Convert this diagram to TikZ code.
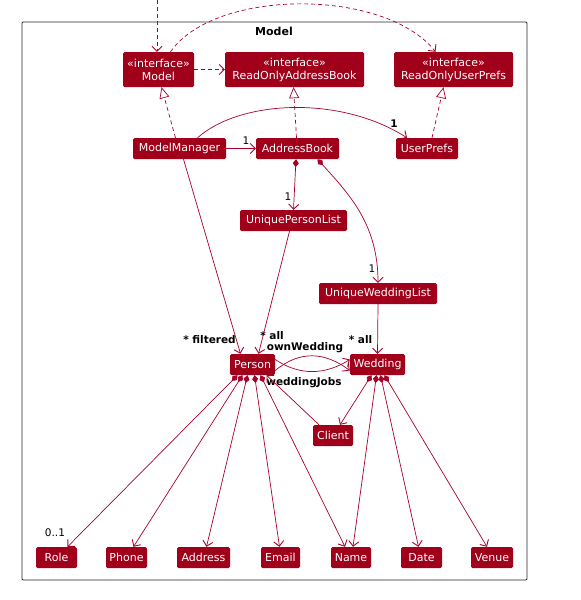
\documentclass[tikz,border=0pt]{standalone}
\usepackage{fontspec}
\setmainfont{DejaVu Sans}
\usetikzlibrary{arrows.meta}
\definecolor{umlred}{RGB}{160,0,26}
\definecolor{umlline}{RGB}{168,0,40}
\begin{document}
\begin{tikzpicture}[x=1pt,y=-1pt,
  cls/.style={fill=umlred, text=white, rounded corners=1.5pt, minimum height=21pt, inner sep=0pt, font=\fontsize{11}{13}\selectfont},
  iface/.style={cls, minimum height=35pt, align=center},
  lnk/.style={draw=umlline, line width=0.7pt},
  dep/.style={lnk, dashed, dash pattern=on 4pt off 3pt, -{Straight Barb[length=5pt,width=10pt,line width=0.9pt]}},
  real/.style={lnk, dashed, dash pattern=on 4pt off 3pt, -{Triangle[open,length=11pt,width=10pt,fill=white]}},
  assoc/.style={lnk, -{Straight Barb[length=5pt,width=10pt,line width=0.9pt]}},
  comp/.style={lnk, {Diamond[length=8pt,width=6pt]}-{Straight Barb[length=5pt,width=10pt,line width=0.9pt]}},
  lbl/.style={font=\fontsize{10.5}{12}\selectfont\bfseries, text=black, inner sep=0pt},
  mul/.style={font=\fontsize{10.5}{12}\selectfont, text=black, inner sep=0pt}
]
\useasboundingbox (0,0) rectangle (581,600);
\draw[black!85, line width=0.8pt, rounded corners=1pt] (22,22) rectangle (527,580);
\node[font=\fontsize{11}{13}\selectfont\bfseries] (title) at (274,31) {Model};

\node[iface, minimum width=71pt] (model) at (158.5,69.5) {«interface»\\Model};
\node[iface, minimum width=139pt] (roab) at (294.5,69.5) {«interface»\\ReadOnlyAddressBook};
\node[iface, minimum width=119pt] (roup) at (453.5,69.5) {«interface»\\ReadOnlyUserPrefs};

\node[cls, minimum width=93pt] (mm) at (179.5,148.5) {ModelManager};
\node[cls, minimum width=83pt] (ab) at (297.5,148.5) {AddressBook};
\node[cls, minimum width=62pt] (up) at (427,148.5) {UserPrefs};
\node[cls, minimum width=107pt] (upl) at (293.5,220.5) {UniquePersonList};
\node[cls, minimum width=118pt] (uwl) at (378,293.5) {UniqueWeddingList};
\node[cls, minimum width=45pt] (person) at (252.5,364.5) {Person};
\node[cls, minimum width=55pt] (wedding) at (377.5,364.5) {Wedding};
\node[cls, minimum width=40pt] (client) at (333,435.5) {Client};
\node[cls, minimum width=41pt] (role) at (56.5,557.5) {Role};
\node[cls, minimum width=41pt] (phone) at (126.5,557.5) {Phone};
\node[cls, minimum width=53pt] (address) at (203.5,557.5) {Address};
\node[cls, minimum width=39pt] (email) at (280.5,557.5) {Email};
\node[cls, minimum width=40pt] (name) at (351,557.5) {Name};
\node[cls, minimum width=41pt] (date) at (421.5,557.5) {Date};
\node[cls, minimum width=42pt] (venue) at (492,557.5) {Venue};

% external dependency into Model
\coordinate (ext) at (157,0);
\draw[dep] (ext) -- (ext |- model.north);
% Model -> ReadOnlyUserPrefs
\draw[dep] ([xshift=12pt]model.north) .. controls (215,-12) and (385,-12) .. ([xshift=-18pt]roup.north);
% Model -> ReadOnlyAddressBook
\draw[dep] (model.east) -- (roab.west);
% realizations
\draw[real] ([xshift=-4pt]mm.north) -- ([xshift=3pt]model.south);
\draw[real] ([xshift=-1pt]ab.north) -- ([xshift=-1pt]roab.south);
\draw[real] ([xshift=5pt]up.north) -- ([xshift=-10pt]roup.south);
% ModelManager -> UserPrefs
\draw[assoc] ([xshift=18pt]mm.north) .. controls (240,100) and (340,95) .. ([xshift=-20pt]up.north);
\node[lbl] (m1) at (394,124) {1};
% ModelManager -> AddressBook
\draw[assoc] (mm.east) -- (ab.west);
\node[mul] (m2) at (246,141) {1};
% AddressBook -> UniquePersonList
\draw[comp] ([xshift=-1.5pt]ab.south) -- (upl.north);
\node[mul] (m3) at (288,197) {1};
% AddressBook -> UniqueWeddingList
\draw[comp] ([xshift=20pt]ab.south) .. controls (350,195) and (378,225) .. (uwl.north);
\node[mul] (m4) at (372,269) {1};
% ModelManager -> Person
\draw[assoc] ([xshift=4pt]mm.south) -- ([xshift=-12pt]person.north);
\node[lbl] (l1) at (209.5,340) {* filtered};
% UniquePersonList -> Person
\draw[assoc] ([xshift=-4pt]upl.south) -- ([xshift=6pt]person.north);
\node[lbl] (l2) at (272,336) {* all};
% UniqueWeddingList -> Wedding
\draw[assoc] (uwl.south) -- (wedding.north);
\node[lbl] (l3) at (360.5,340) {* all};
% Person -> Wedding
\draw[assoc] ([yshift=-6pt]person.east) .. controls (300,350) and (325,352) .. ([yshift=-6pt]wedding.west);
\node[lbl] (l4) at (305,347.5) {ownWedding};
\draw[assoc] ([yshift=5pt]person.east) .. controls (300,376) and (325,375) .. ([yshift=5pt]wedding.west);
\node[lbl] (l5) at (304,383) {weddingJobs};
% Client -> Person
\draw[assoc] ([xshift=-14pt]client.north) -- ([xshift=14pt]person.south);
% Wedding -> Client
\draw[comp] ([xshift=-6pt]wedding.south) -- ([xshift=7pt]client.north);
% Person compositions
\draw[comp] ([xshift=-15pt]person.south) -- ([xshift=11pt]role.north);
\node[mul] (m5) at (55,533) {0..1};
\draw[comp] ([xshift=-10pt]person.south) -- ([xshift=7pt]phone.north);
\draw[comp] ([xshift=-5pt]person.south) -- ([xshift=3pt]address.north);
\draw[comp] ([xshift=2pt]person.south) -- ([xshift=-1pt]email.north);
\draw[comp] ([xshift=8pt]person.south) -- ([xshift=-6pt]name.north);
% Wedding compositions
\draw[comp] ([xshift=-1pt]wedding.south) -- ([xshift=2pt]name.north);
\draw[comp] ([xshift=3pt]wedding.south) -- ([xshift=-3pt]date.north);
\draw[comp] ([xshift=7pt]wedding.south) -- ([xshift=-5pt]venue.north);
\end{tikzpicture}
\end{document}
